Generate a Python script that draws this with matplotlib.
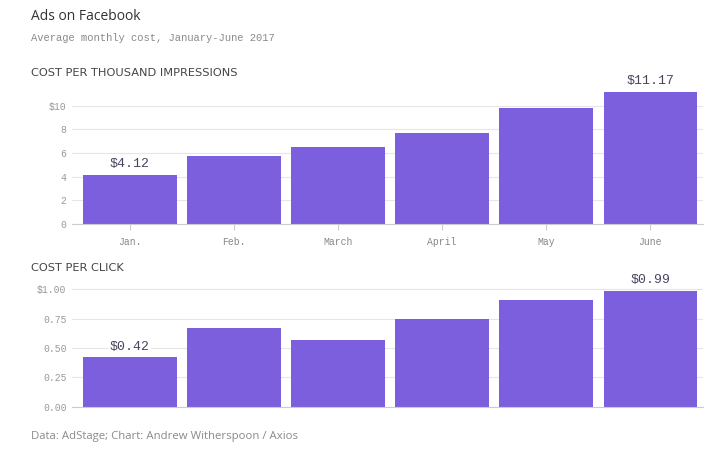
import matplotlib
matplotlib.use("Agg")
import matplotlib.pyplot as plt
from matplotlib.ticker import FuncFormatter

# data
months = ["Jan.", "Feb.", "March", "April", "May", "June"]
cpm = [4.12, 5.75, 6.48, 7.69, 9.78, 11.17]
cpc = [0.42, 0.67, 0.57, 0.75, 0.91, 0.99]
cpm_ticks = [0, 2, 4, 6, 8, 10]
cpc_ticks = [0, 0.25, 0.5, 0.75, 1.0]

purple = "#7b5fdd"
mono = "Liberation Mono"
sans = "Open Sans"

fig = plt.figure(figsize=(7.2, 4.54), dpi=100)
fig.patch.set_facecolor("white")

fig.text(31 / 720, 1 - 17 / 454, "Ads on Facebook", family=sans, size=10,
         color="#333333", va="center")
fig.text(31 / 720, 1 - 38 / 454, "Average monthly cost, January-June 2017",
         family=mono, size=7.6, color="#8a8a8a", va="center")
fig.text(31 / 720, 1 - 73 / 454, "COST PER THOUSAND IMPRESSIONS",
         family="DejaVu Sans", size=8.2, color="#444444", va="center")
fig.text(31 / 720, 1 - 268 / 454, "COST PER CLICK", family="DejaVu Sans",
         size=8.2, color="#444444", va="center")
fig.text(31 / 720, 1 - 437 / 454,
         "Data: AdStage; Chart: Andrew Witherspoon / Axios", family=sans,
         size=8.2, color="#8a8a8a", va="center")


def panel(rect, vals, ticks, ymax, fmt, lab, show_x):
    ax = fig.add_axes(rect)
    x = list(range(len(vals)))
    ax.bar(x, vals, width=0.9, color=purple, zorder=2)
    ax.set_xlim(-0.554, 5.5)
    ax.set_ylim(0, ymax)
    ax.set_yticks(ticks)
    ax.yaxis.set_major_formatter(FuncFormatter(fmt))
    ax.grid(axis="y", color="#e6e6e6", linewidth=0.8, zorder=0)
    for s in ["top", "right", "left"]:
        ax.spines[s].set_visible(False)
    ax.spines["bottom"].set_color("#cccccc")
    ax.tick_params(axis="y", length=0, pad=4, labelsize=7, labelcolor="#999999")
    for t in ax.get_yticklabels():
        t.set_family(mono)
    ax.set_xticks(x)
    if show_x:
        ax.set_xticklabels(months, family=mono, size=7, color="#888888")
        ax.tick_params(axis="x", length=4, color="#cccccc", pad=5)
    else:
        ax.set_xticklabels([])
        ax.tick_params(axis="x", length=0)
    for i in (0, len(vals) - 1):
        ax.annotate(lab(vals[i]), (i, vals[i]), xytext=(0, 3.5),
                    textcoords="offset points", ha="center", va="bottom",
                    family=mono, size=9.5, color="#4a4560", zorder=3,
                    bbox=dict(facecolor="white", edgecolor="none", pad=1))
    return ax


panel([72 / 720, 1 - 224 / 454, 630.5 / 720, 136 / 454], cpm, cpm_ticks, 11.5,
      lambda v, p: "$10" if v == 10 else "%d" % v,
      lambda v: "$%.2f" % v, True)
panel([72 / 720, 1 - 406.7 / 454, 630.5 / 720, 126.7 / 454], cpc, cpc_ticks, 1.08,
      lambda v, p: "$1.00" if v == 1 else "%.2f" % v,
      lambda v: "$%.2f" % v, False)

fig.savefig("out.png", dpi=100)
